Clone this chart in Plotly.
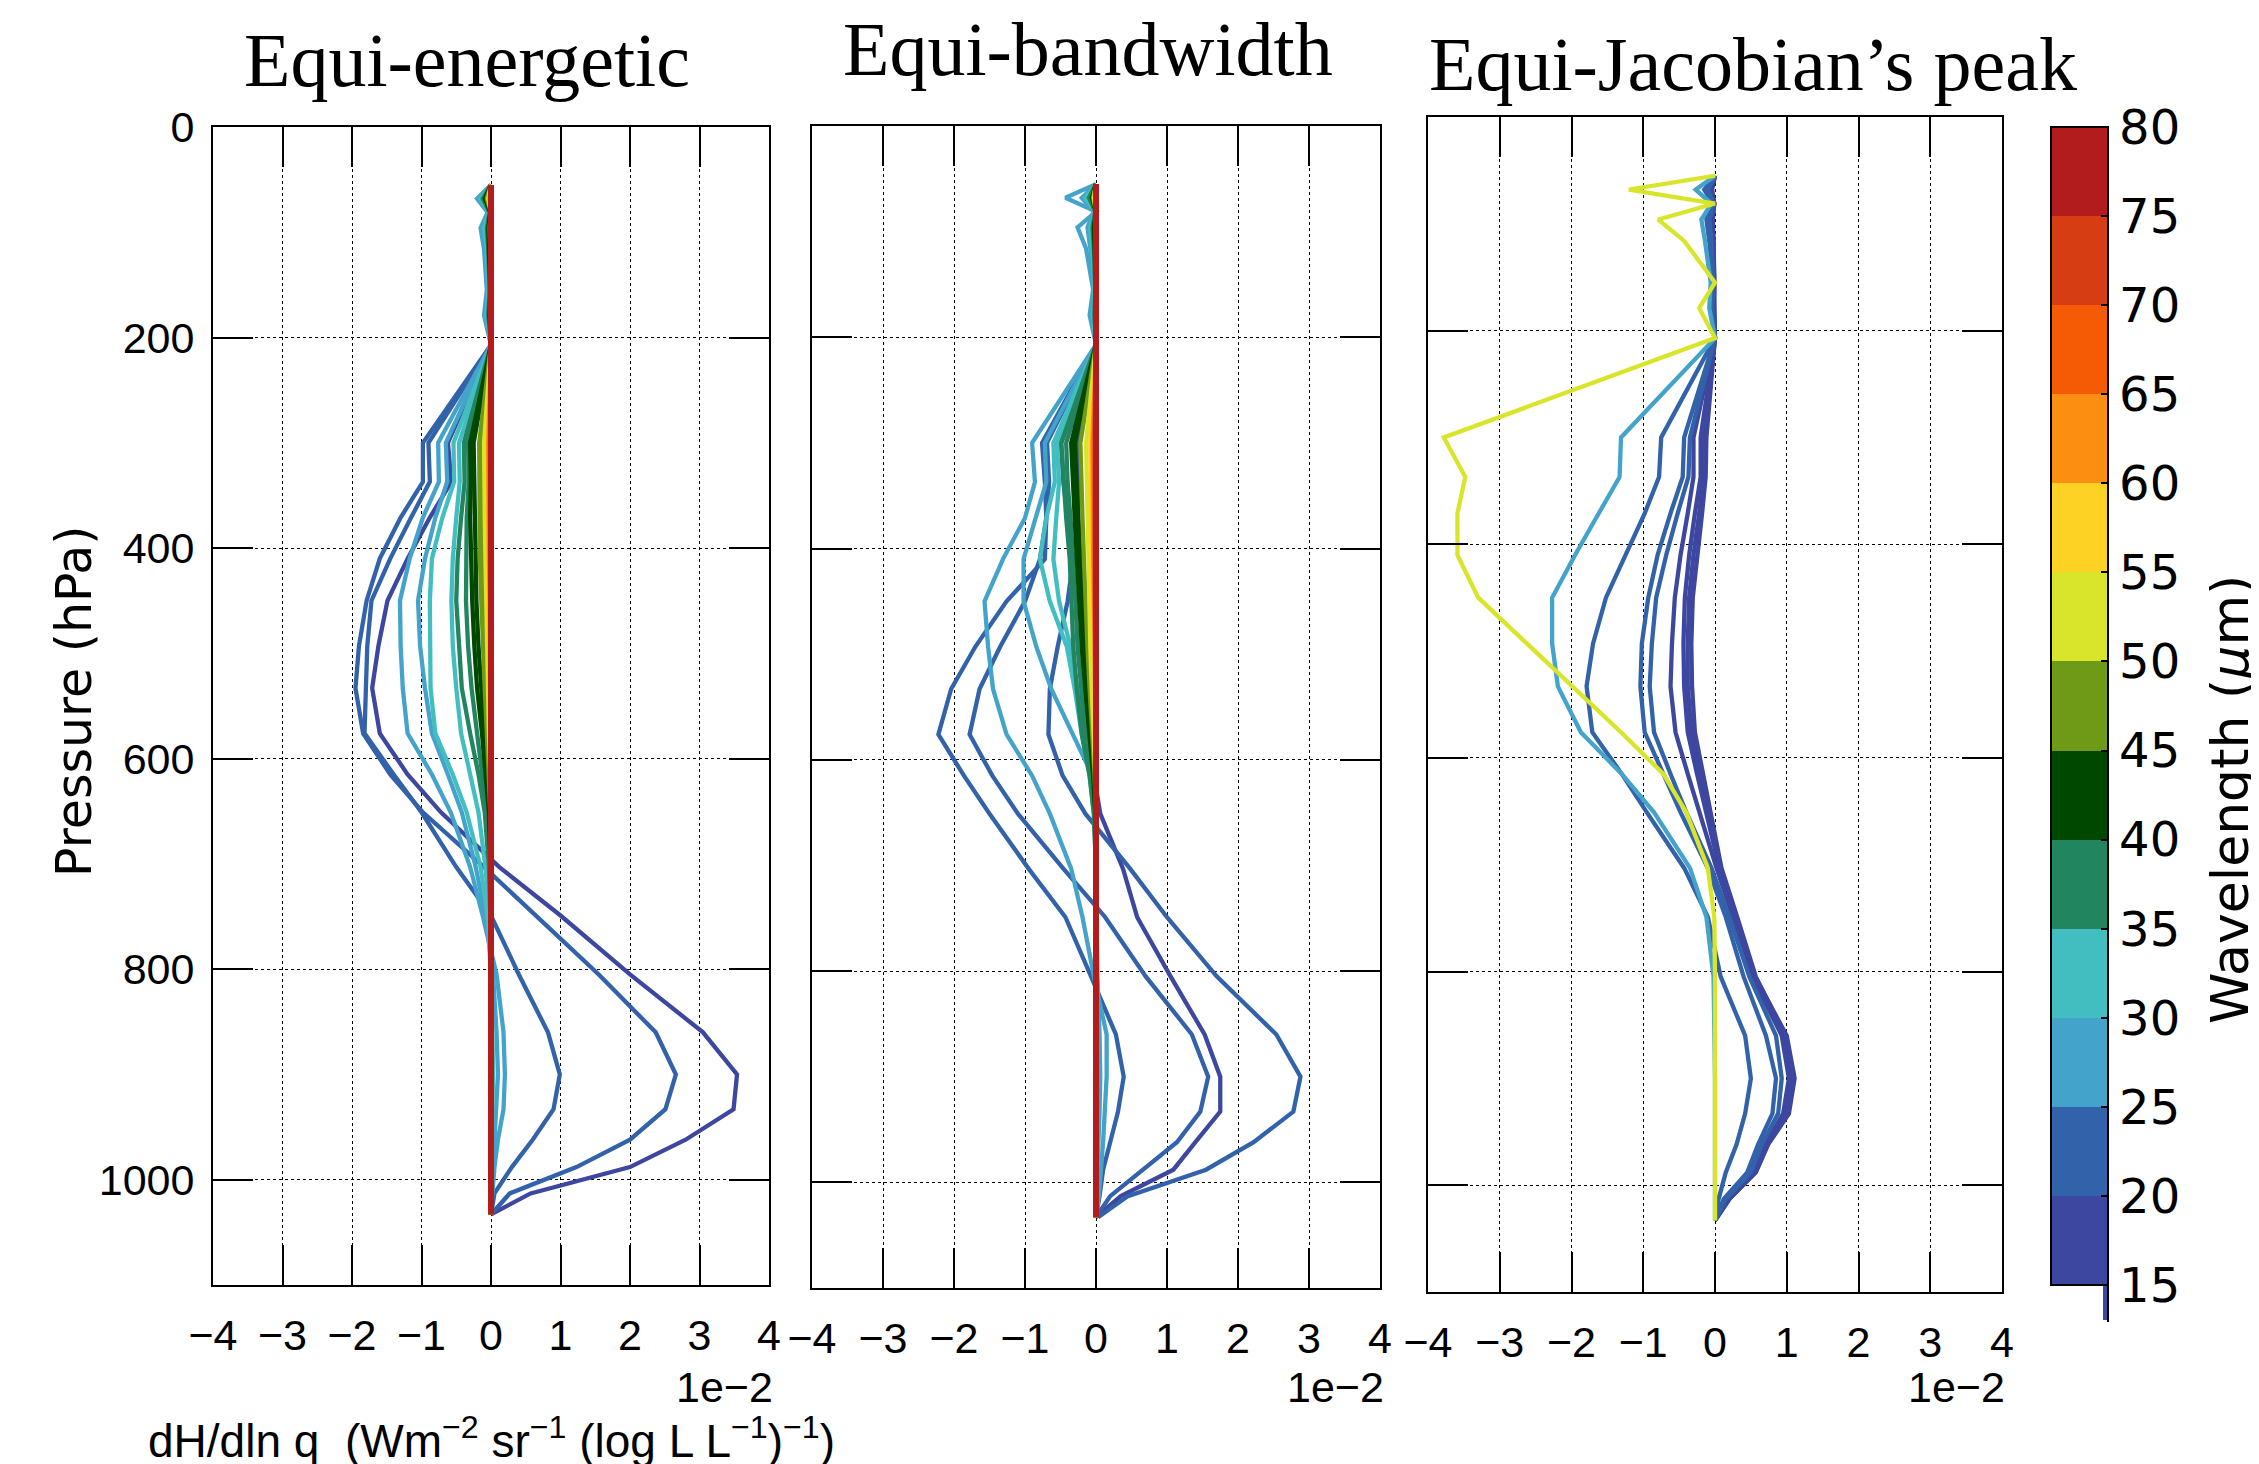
import plotly.graph_objects as go

W, H = 2259, 1464

# ---------------- data ----------------
P_LEVELS = [55, 68, 81, 96, 116, 155, 179, 207, 300, 337, 371, 410, 450, 493,
            533, 576, 615, 651, 703, 749, 805, 860, 900, 933, 962, 988, 1013, 1033]

X_TICKS = [-4, -3, -2, -1, 0, 1, 2, 3, 4]
X_TICK_TEXT = ["\u22124", "\u22123", "\u22122", "\u22121", "0", "1", "2", "3", "4"]
Y_TICKS = [0, 200, 400, 600, 800, 1000]
Y_TICK_TEXT = ["0", "200", "400", "600", "800", "1000"]
CBAR_TICKS = [15, 20, 25, 30, 35, 40, 45, 50, 55, 60, 65, 70, 75, 80]
BAND_COLORS = ["#3D47A0", "#3262A9", "#44A3CB", "#43BEC0", "#218560", "#004800",
               "#6E9A18", "#D9E52A", "#FDD225", "#FC8E11", "#F55B05", "#D63D12", "#B31C1D"]
PANEL_TITLES = ["Equi-energetic", "Equi-bandwidth", "Equi-Jacobian\u2019s peak"]

# Panel 1: equi-energetic  (wavelength in um, dH/dln q in units of 1e-2)
ENERGETIC_WL = [17, 21, 24, 26, 28, 31, 33, 36, 38, 41, 43, 46, 48, 52, 57, 62, 67, 72, 77]
ENERGETIC_H = [
    [0, -0.03, -0.01, -0.03, -0.02, -0.01, -0.02, 0, -0.62, -0.57, -0.88, -1.2, -1.49, -1.62, -1.71, -1.6, -1.2, -0.72, 0.12, 1.0, 2.0, 3.05, 3.54, 3.49, 2.8, 2.0, 0.57, 0],
    [0, -0.05, -0.02, -0.04, -0.03, -0.02, -0.03, 0, -0.98, -0.98, -1.3, -1.6, -1.79, -1.9, -1.95, -1.84, -1.45, -0.98, -0.1, 0.65, 1.55, 2.37, 2.66, 2.51, 2.0, 1.23, 0.27, 0],
    [0, -0.08, -0.03, -0.06, -0.04, -0.03, -0.05, 0, -0.9, -0.88, -1.15, -1.45, -1.72, -1.78, -1.8, -1.82, -1.4, -1.0, -0.5, 0.0, 0.4, 0.82, 0.99, 0.9, 0.6, 0.3, 0.05, 0],
    [0, -0.2, -0.05, -0.15, -0.1, -0.06, -0.1, 0, -0.76, -0.75, -0.98, -1.17, -1.31, -1.3, -1.27, -1.2, -0.85, -0.58, -0.3, -0.12, 0.08, 0.18, 0.2, 0.18, 0.1, 0.05, 0.02, 0],
    [0, -0.18, -0.04, -0.12, -0.08, -0.05, -0.08, 0, -0.65, -0.63, -0.8, -0.95, -1.05, -1.02, -0.95, -0.85, -0.62, -0.42, -0.22, -0.08, 0.03, 0.08, 0.1, 0.08, 0.05, 0.02, 0.01, 0],
    [0, -0.15, -0.03, -0.1, -0.06, -0.04, -0.06, 0, -0.54, -0.53, -0.7, -0.85, -0.88, -0.88, -0.87, -0.8, -0.55, -0.35, -0.15, -0.05, 0, 0.02, 0.03, 0.02, 0.01, 0, 0, 0],
    [0, -0.13, -0.02, -0.08, -0.05, -0.03, -0.05, 0, -0.46, -0.45, -0.5, -0.55, -0.57, -0.55, -0.5, -0.43, -0.3, -0.18, -0.08, -0.02, 0, 0, 0.01, 0, 0, 0, 0, 0],
    [0, -0.12, -0.02, -0.06, -0.04, -0.02, -0.04, 0, -0.39, -0.38, -0.43, -0.48, -0.5, -0.46, -0.42, -0.3, -0.18, -0.09, -0.03, -0.01, 0, 0, 0, 0, 0, 0, 0, 0],
    [0, -0.1, -0.02, -0.05, -0.03, -0.02, -0.03, 0, -0.33, -0.32, -0.35, -0.36, -0.36, -0.33, -0.28, -0.2, -0.12, -0.06, -0.02, 0, 0, 0, 0, 0, 0, 0, 0, 0],
    [0, -0.09, -0.01, -0.04, -0.03, -0.01, -0.02, 0, -0.3, -0.29, -0.3, -0.29, -0.27, -0.24, -0.2, -0.13, -0.07, -0.03, -0.01, 0, 0, 0, 0, 0, 0, 0, 0, 0],
    [0, -0.08, -0.01, -0.03, -0.02, -0.01, -0.02, 0, -0.25, -0.24, -0.24, -0.23, -0.21, -0.18, -0.14, -0.09, -0.05, -0.02, 0, 0, 0, 0, 0, 0, 0, 0, 0, 0],
    [0, -0.06, 0, -0.02, -0.01, 0, -0.01, 0, -0.17, -0.17, -0.17, -0.16, -0.14, -0.12, -0.09, -0.06, -0.03, -0.01, 0, 0, 0, 0, 0, 0, 0, 0, 0, 0],
    [0, -0.05, 0, -0.01, -0.01, 0, -0.01, 0, -0.13, -0.13, -0.12, -0.11, -0.1, -0.08, -0.06, -0.04, -0.02, 0, 0, 0, 0, 0, 0, 0, 0, 0, 0, 0],
    [0, -0.04, 0, -0.01, 0, 0, 0, 0, -0.1, -0.1, -0.09, -0.08, -0.07, -0.06, -0.04, -0.03, -0.01, 0, 0, 0, 0, 0, 0, 0, 0, 0, 0, 0],
    [0, -0.03, 0, 0, 0, 0, 0, 0, -0.06, -0.06, -0.05, -0.05, -0.04, -0.03, -0.02, -0.01, 0, 0, 0, 0, 0, 0, 0, 0, 0, 0, 0, 0],
    [0, -0.02, 0, 0, 0, 0, 0, 0, -0.04, -0.04, -0.03, -0.03, -0.02, -0.02, -0.01, -0.01, 0, 0, 0, 0, 0, 0, 0, 0, 0, 0, 0, 0],
    [0, -0.01, 0, 0, 0, 0, 0, 0, -0.02, -0.02, -0.02, -0.01, -0.01, -0.01, 0, 0, 0, 0, 0, 0, 0, 0, 0, 0, 0, 0, 0, 0],
    [0, 0, 0, 0, 0, 0, 0, 0, -0.01, -0.01, -0.01, 0, 0, 0, 0, 0, 0, 0, 0, 0, 0, 0, 0, 0, 0, 0, 0, 0],
    [0, 0, 0, 0, 0, 0, 0, 0, 0, 0, 0, 0, 0, 0, 0, 0, 0, 0, 0, 0, 0, 0, 0, 0, 0, 0, 0, 0],
]

# Panel 2: equi-bandwidth
BANDWIDTH_WL = [17, 21, 22, 24, 26, 28, 31, 34, 36, 39, 41, 44, 47, 52, 57, 62, 67, 72, 77]
BANDWIDTH_H = [
    [0, -0.02, 0, -0.02, -0.01, 0, -0.01, 0, -0.26, -0.25, -0.25, -0.22, -0.2, -0.2, -0.15, -0.1, -0.03, 0.06, 0.38, 0.58, 1.05, 1.53, 1.75, 1.75, 1.4, 1.09, 0.35, 0],
    [0, -0.05, -0.01, -0.04, -0.02, -0.01, -0.02, 0, -0.49, -0.46, -0.4, -0.32, -0.4, -0.54, -0.65, -0.67, -0.47, -0.15, 0.48, 1.0, 1.7, 2.54, 2.88, 2.78, 2.22, 1.55, 0.45, 0.03],
    [0, -0.06, -0.02, -0.05, -0.03, -0.02, -0.03, 0, -0.69, -0.66, -0.7, -0.79, -1.0, -1.35, -1.64, -1.78, -1.46, -1.1, -0.46, 0.13, 0.7, 1.35, 1.58, 1.47, 1.14, 0.65, 0.2, 0],
    [0, -0.08, -0.02, -0.06, -0.04, -0.02, -0.04, 0, -0.76, -0.72, -0.7, -0.72, -1.26, -1.7, -2.04, -2.22, -1.86, -1.5, -0.95, -0.43, -0.07, 0.28, 0.39, 0.31, 0.2, 0.1, 0.05, 0],
    [0, -0.43, 0, -0.26, -0.14, -0.04, -0.09, 0, -0.9, -0.86, -1.0, -1.31, -1.57, -1.52, -1.45, -1.26, -0.9, -0.65, -0.35, -0.19, -0.03, 0.15, 0.15, 0.13, 0.1, 0.07, 0.04, 0],
    [0, -0.2, -0.03, -0.12, -0.08, -0.03, -0.06, 0, -0.72, -0.7, -0.85, -1.02, -1.02, -0.84, -0.63, -0.32, -0.05, -0.01, 0, 0, 0.02, 0.05, 0.06, 0.05, 0.03, 0.02, 0.01, 0],
    [0, -0.15, -0.02, -0.08, -0.05, -0.02, -0.04, 0, -0.6, -0.58, -0.7, -0.79, -0.65, -0.41, -0.3, -0.2, -0.09, -0.03, 0, 0, 0, 0, 0, 0, 0, 0, 0, 0],
    [0, -0.12, -0.02, -0.06, -0.04, -0.02, -0.03, 0, -0.55, -0.52, -0.56, -0.6, -0.52, -0.36, -0.26, -0.16, -0.07, -0.02, 0, 0, 0, 0, 0, 0, 0, 0, 0, 0],
    [0, -0.1, -0.01, -0.05, -0.03, -0.01, -0.02, 0, -0.49, -0.46, -0.42, -0.37, -0.35, -0.32, -0.27, -0.2, -0.09, -0.03, 0, 0, 0, 0, 0, 0, 0, 0, 0, 0],
    [0, -0.08, -0.01, -0.04, -0.02, -0.01, -0.02, 0, -0.42, -0.4, -0.36, -0.32, -0.29, -0.26, -0.21, -0.15, -0.07, -0.02, 0, 0, 0, 0, 0, 0, 0, 0, 0, 0],
    [0, -0.06, 0, -0.03, -0.02, 0, -0.01, 0, -0.35, -0.33, -0.3, -0.27, -0.24, -0.2, -0.15, -0.09, -0.04, -0.01, 0, 0, 0, 0, 0, 0, 0, 0, 0, 0],
    [0, -0.05, 0, -0.02, -0.01, 0, -0.01, 0, -0.3, -0.28, -0.25, -0.22, -0.19, -0.16, -0.12, -0.07, -0.03, -0.01, 0, 0, 0, 0, 0, 0, 0, 0, 0, 0],
    [0, -0.04, 0, -0.01, -0.01, 0, 0, 0, -0.22, -0.21, -0.19, -0.17, -0.15, -0.12, -0.09, -0.05, -0.02, 0, 0, 0, 0, 0, 0, 0, 0, 0, 0, 0],
    [0, -0.03, 0, -0.01, 0, 0, 0, 0, -0.14, -0.13, -0.12, -0.11, -0.1, -0.08, -0.06, -0.03, -0.01, 0, 0, 0, 0, 0, 0, 0, 0, 0, 0, 0],
    [0, -0.02, 0, 0, 0, 0, 0, 0, -0.08, -0.08, -0.07, -0.06, -0.05, -0.04, -0.03, -0.02, 0, 0, 0, 0, 0, 0, 0, 0, 0, 0, 0, 0],
    [0, -0.01, 0, 0, 0, 0, 0, 0, -0.05, -0.05, -0.04, -0.04, -0.03, -0.02, -0.02, -0.01, 0, 0, 0, 0, 0, 0, 0, 0, 0, 0, 0, 0],
    [0, 0, 0, 0, 0, 0, 0, 0, -0.03, -0.03, -0.02, -0.02, -0.02, -0.01, -0.01, 0, 0, 0, 0, 0, 0, 0, 0, 0, 0, 0, 0, 0],
    [0, 0, 0, 0, 0, 0, 0, 0, -0.01, -0.01, -0.01, -0.01, 0, 0, 0, 0, 0, 0, 0, 0, 0, 0, 0, 0, 0, 0, 0, 0],
    [0, 0, 0, 0, 0, 0, 0, 0, 0, 0, 0, 0, 0, 0, 0, 0, 0, 0, 0, 0, 0, 0, 0, 0, 0, 0, 0, 0],
]

# Panel 3: equi-Jacobian's peak
JACOBIAN_WL = [16, 17, 18, 19, 21, 22, 24, 27, 52]
JACOBIAN_H = [
    [0, -0.04, -0.01, -0.03, -0.02, -0.01, -0.01, 0, -0.12, -0.13, -0.18, -0.25, -0.31, -0.33, -0.32, -0.28, -0.17, -0.06, 0.09, 0.31, 0.57, 0.98, 1.08, 1.02, 0.73, 0.56, 0.2, 0],
    [0, -0.05, -0.01, -0.04, -0.02, -0.01, -0.02, 0, -0.15, -0.16, -0.22, -0.3, -0.36, -0.38, -0.38, -0.33, -0.2, -0.08, 0.08, 0.3, 0.56, 1.0, 1.11, 1.03, 0.74, 0.57, 0.2, 0],
    [0, -0.06, -0.01, -0.05, -0.03, -0.01, -0.02, 0, -0.2, -0.2, -0.28, -0.36, -0.42, -0.44, -0.43, -0.38, -0.25, -0.12, 0.06, 0.28, 0.55, 0.97, 1.08, 1.0, 0.72, 0.56, 0.19, 0],
    [0, -0.08, -0.02, -0.06, -0.04, -0.02, -0.03, 0, -0.3, -0.3, -0.38, -0.48, -0.56, -0.6, -0.62, -0.55, -0.38, -0.22, 0.02, 0.25, 0.52, 0.93, 1.03, 0.95, 0.7, 0.55, 0.18, 0],
    [0, -0.1, -0.02, -0.08, -0.05, -0.02, -0.04, 0, -0.35, -0.37, -0.52, -0.68, -0.82, -0.88, -0.91, -0.85, -0.62, -0.4, -0.05, 0.2, 0.48, 0.85, 0.93, 0.88, 0.65, 0.5, 0.15, 0],
    [0, -0.12, -0.03, -0.1, -0.06, -0.03, -0.05, 0, -0.43, -0.45, -0.62, -0.8, -0.93, -1.02, -1.04, -0.98, -0.72, -0.48, -0.1, 0.15, 0.4, 0.71, 0.85, 0.8, 0.6, 0.45, 0.12, 0],
    [0, -0.15, -0.03, -0.12, -0.08, -0.03, -0.05, 0, -0.75, -0.78, -0.98, -1.25, -1.52, -1.7, -1.79, -1.71, -1.3, -0.95, -0.43, -0.1, 0.08, 0.42, 0.5, 0.42, 0.3, 0.15, 0.05, 0],
    [0, -0.27, -0.05, -0.19, -0.14, -0.06, -0.08, 0, -1.31, -1.33, -1.62, -1.95, -2.27, -2.27, -2.19, -1.87, -1.3, -0.85, -0.35, -0.12, -0.02, 0, 0, 0, 0, 0, 0, 0],
    [0, -1.2, 0, -0.79, -0.43, 0, -0.22, 0, -3.78, -3.48, -3.59, -3.59, -3.3, -2.62, -2.0, -1.31, -0.72, -0.4, -0.1, -0.01, 0, 0, 0, 0, 0, 0, 0, 0],
]

PANELS = [(ENERGETIC_WL, ENERGETIC_H), (BANDWIDTH_WL, BANDWIDTH_H), (JACOBIAN_WL, JACOBIAN_H)]

# ---------------- layout helpers ----------------
OFF = 8  # page body margin offset of the plot div
PANEL_BOXES = [(213, 769, 127, 1285), (812, 1380, 126, 1288), (1428, 2002, 117, 1292)]
TICK_FONT = "Liberation Sans, Arial, sans-serif"
LABEL_FONT = "DejaVu Sans, sans-serif"
TITLE_FONT = "Liberation Serif, serif"


def px(x):
    return (x - OFF) / W


def py(y):
    return 1 - (y - OFF) / H


def wl_color(wl):
    idx = int((wl - CBAR_TICKS[0]) // 5)
    idx = max(0, min(idx, len(BAND_COLORS) - 1))
    return BAND_COLORS[idx]


fig = go.Figure()

for k, (wls, profiles) in enumerate(PANELS):
    sfx = "" if k == 0 else str(k + 1)
    for wl, vals in zip(wls, profiles):
        width = 6 if wl >= 75 else 4.3
        fig.add_trace(go.Scatter(
            x=vals, y=P_LEVELS, mode="lines",
            line=dict(color=wl_color(wl), width=width),
            xaxis="x" + sfx, yaxis="y" + sfx,
            showlegend=False, hoverinfo="skip"))

# discrete colour scale for the colour bar
cscale = []
nb = len(BAND_COLORS)
for i, c in enumerate(BAND_COLORS):
    cscale.append([i / nb, c])
    cscale.append([(i + 1) / nb, c])

fig.add_trace(go.Scatter(
    x=[0], y=[-500], mode="markers", xaxis="x3", yaxis="y3",
    marker=dict(color=[CBAR_TICKS[0]], cmin=CBAR_TICKS[0], cmax=CBAR_TICKS[-1],
                colorscale=cscale, showscale=True, opacity=0, size=1,
                colorbar=dict(
                    x=px(2051), xanchor="left", xpad=0,
                    y=py((127 + 1285) / 2), yanchor="middle", ypad=0,
                    len=1285 - 127, lenmode="pixels",
                    thickness=2108 - 2051, thicknessmode="pixels",
                    outlinewidth=2, outlinecolor="black",
                    tickvals=CBAR_TICKS, ticktext=[str(t) for t in CBAR_TICKS],
                    ticks="inside", ticklen=8, tickwidth=1.5, tickcolor="black",
                    tickfont=dict(family=LABEL_FONT, size=48, color="black"))),
    showlegend=False, hoverinfo="skip"))

axis_common = dict(showline=True, linecolor="black", linewidth=2, mirror="ticks",
                   ticks="inside", ticklen=40, tickwidth=1.5, tickcolor="black",
                   showgrid=True, gridcolor="black", gridwidth=1, griddash="dot",
                   zeroline=False, automargin=False)

layout = dict(width=W, height=H, margin=dict(l=0, r=0, t=0, b=0, pad=0, autoexpand=False),
              paper_bgcolor="white", plot_bgcolor="white", showlegend=False)

for k, (x0, x1, y0, y1) in enumerate(PANEL_BOXES):
    sfx = "" if k == 0 else str(k + 1)
    layout["xaxis" + sfx] = dict(
        axis_common, domain=[px(x0), px(x1)], range=[-4, 4],
        anchor="y" + sfx, tickvals=X_TICKS, ticktext=X_TICK_TEXT,
        tickfont=dict(family=TICK_FONT, size=43, color="black"),
        ticklabelstandoff=11)
    layout["yaxis" + sfx] = dict(
        axis_common, domain=[py(y1), py(y0)], range=[1100, 0],
        anchor="x" + sfx, tickvals=Y_TICKS, ticktext=Y_TICK_TEXT,
        showticklabels=(k == 0),
        tickfont=dict(family=TICK_FONT, size=43, color="black"),
        ticklabelstandoff=8)

fig.update_layout(**layout)

annotations = []
title_pos = [(467, 60), (1088, 49), (1753, 64)]
for t, (cx, cy) in zip(PANEL_TITLES, title_pos):
    annotations.append(dict(text=t, x=px(cx), y=py(cy), xref="paper", yref="paper",
                            xanchor="center", yanchor="middle", showarrow=False,
                            font=dict(family=TITLE_FONT, size=76, color="black")))
for rx in (775, 1386, 2007):
    annotations.append(dict(text="1e\u22122", x=px(rx), y=py(1387), xref="paper", yref="paper",
                            xanchor="right", yanchor="middle", showarrow=False,
                            font=dict(family=TICK_FONT, size=43, color="black")))
annotations.append(dict(
    text="dH/dln q  (Wm<sup>\u22122</sup> sr<sup>\u22121</sup> (log L L<sup>\u22121</sup>)<sup>\u22121</sup>)",
    x=px(491), y=py(1438), xref="paper", yref="paper", xanchor="center", yanchor="middle",
    showarrow=False, font=dict(family=TICK_FONT, size=46, color="black")))
annotations.append(dict(text="Pressure (hPa)", x=px(74), y=py(702), xref="paper", yref="paper",
                        xanchor="center", yanchor="middle", textangle=-90, showarrow=False,
                        font=dict(family=LABEL_FONT, size=49, color="black")))
annotations.append(dict(text="Wavelength (<i>\u03bc</i>m)", x=px(2230), y=py(800),
                        xref="paper", yref="paper", xanchor="center", yanchor="middle",
                        textangle=-90, showarrow=False,
                        font=dict(family=LABEL_FONT, size=52, color="black")))
fig.update_layout(annotations=annotations)

# small extension sliver under the colour bar
fig.add_shape(type="rect", xref="paper", yref="paper", x0=px(2103), x1=px(2108),
              y0=py(1320), y1=py(1285), fillcolor=BAND_COLORS[0], line=dict(width=0))
fig.add_shape(type="line", xref="paper", yref="paper", x0=px(2108), x1=px(2108),
              y0=py(1322), y1=py(1285), line=dict(color="black", width=2))

fig.write_html("out.html")
